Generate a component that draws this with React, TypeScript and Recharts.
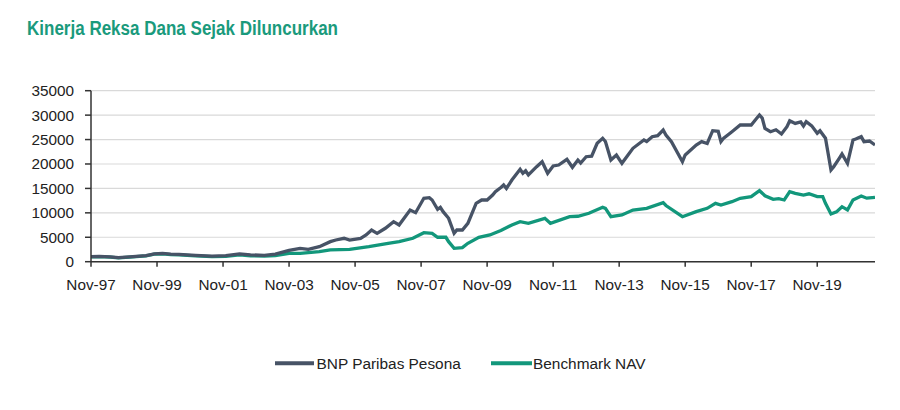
import React from "react";
import { LineChart, Line, XAxis, YAxis, CartesianGrid } from "recharts";

// months since Nov-97 (launch) and NAV values
const bnpMonth = [0, 3, 7, 10, 14, 20, 23, 26, 29, 32, 38, 44, 49, 54, 58, 63, 67, 72, 76, 79, 83, 87, 89, 92, 94, 98, 100, 102, 104, 107, 110, 112, 116, 118, 121, 123, 124, 126, 127, 128, 130, 132, 133, 135, 137, 140, 142, 144, 146, 147, 149, 150, 151, 153, 156, 157, 158, 159, 162, 164, 166, 168, 170, 173, 175, 177, 178, 180, 182, 184, 186, 187, 189, 191, 193, 197, 201, 202, 204, 206, 208, 209, 211, 215, 216, 220, 222, 224, 226, 228, 229, 230, 233, 236, 240, 242, 243, 244, 245, 247, 249, 251, 253, 254, 256, 258, 259, 260, 262, 264, 265, 267, 269, 270, 272, 273, 275, 277, 278, 280, 281, 283, 285];
const bnpValue = [1050, 1100, 1000, 850, 1000, 1250, 1600, 1700, 1550, 1500, 1300, 1150, 1250, 1600, 1400, 1300, 1550, 2300, 2740, 2540, 3070, 4100, 4440, 4790, 4440, 4790, 5470, 6490, 5810, 6840, 8190, 7510, 10580, 10030, 12980, 13100, 12630, 10730, 11140, 10240, 8880, 5810, 6490, 6490, 7860, 11950, 12630, 12630, 13650, 14330, 15200, 15700, 15000, 16720, 18910, 18090, 18600, 17750, 19450, 20470, 18090, 19590, 19790, 20960, 19320, 20820, 20200, 21490, 21600, 24240, 25260, 24600, 20820, 21840, 20140, 23210, 24910, 24600, 25590, 25800, 26960, 25940, 24570, 20470, 21840, 23890, 24570, 24200, 26820, 26700, 24570, 25300, 26610, 27980, 27980, 29350, 30030, 29400, 27300, 26610, 27000, 26140, 27640, 28860, 28300, 28600, 27780, 28660, 27800, 26280, 26800, 25260, 18770, 19450, 21160, 22040, 20140, 24910, 25100, 25590, 24570, 24700, 23890];

const benchMonth = [0, 3, 7, 10, 14, 20, 23, 26, 29, 32, 38, 44, 49, 54, 58, 63, 67, 72, 76, 83, 87, 94, 101, 108, 112, 117, 121, 124, 126, 129, 130, 132, 135, 137, 141, 145, 149, 153, 156, 159, 165, 167, 174, 177, 181, 186, 187, 189, 193, 197, 202, 208, 209, 215, 220, 224, 227, 229, 233, 236, 240, 243, 245, 248, 250, 252, 254, 256, 259, 261, 264, 266, 267, 269, 271, 273, 275, 277, 280, 282, 285];
const benchValue = [1000, 1050, 950, 800, 950, 1200, 1550, 1600, 1450, 1400, 1200, 1050, 1100, 1400, 1200, 1150, 1250, 1700, 1720, 2050, 2400, 2540, 3070, 3770, 4100, 4790, 5940, 5800, 5000, 5000, 4100, 2740, 2880, 3770, 5000, 5470, 6400, 7510, 8190, 7850, 8880, 7860, 9210, 9300, 9910, 11140, 10900, 9210, 9560, 10580, 10930, 12080, 11500, 9210, 10240, 10930, 11950, 11600, 12280, 12980, 13310, 14530, 13500, 12770, 12900, 12630, 14330, 14000, 13650, 13900, 13310, 13310, 11950, 9760, 10200, 11260, 10580, 12630, 13450, 13000, 13180];

const xTicks = [0, 24, 48, 72, 96, 120, 144, 168, 192, 216, 240, 264];
const xTickLabels = ["Nov-97", "Nov-99", "Nov-01", "Nov-03", "Nov-05", "Nov-07", "Nov-09", "Nov-11", "Nov-13", "Nov-15", "Nov-17", "Nov-19"];
const yTicks = [0, 5000, 10000, 15000, 20000, 25000, 30000, 35000];

const seriesNames = ["BNP Paribas Pesona", "Benchmark NAV"];
const title = "Kinerja Reksa Dana Sejak Diluncurkan";

const bnpData = bnpMonth.map((m, i) => ({ m, v: bnpValue[i] }));
const benchData = benchMonth.map((m, i) => ({ m, v: benchValue[i] }));

const BNP_COLOR = "#475366";
const BENCH_COLOR = "#12977b";
const FONT = "'Liberation Sans', Arial, sans-serif";

export default function App() {
  return (
    <div style={{ position: "relative", width: 884, height: 394, background: "#fff" }}>
      <svg width={884} height={40} style={{ position: "absolute", left: 0, top: 0 }}>
        <text
          x={19}
          y={26.5}
          fontFamily={FONT}
          fontWeight="bold"
          fontSize={19.5}
          fill="#1a9a7c"
          textLength={311}
          lengthAdjust="spacingAndGlyphs"
        >
          {title}
        </text>
      </svg>
      <div style={{ position: "absolute", left: 0, top: 0 }}>
        <LineChart
          width={884}
          height={394}
          margin={{ top: 82.7, right: 17, left: 0, bottom: 110.3 }}
        >
          <CartesianGrid horizontal vertical={false} stroke="#d9d9d9" strokeWidth={1.2} />
          <XAxis
            type="number"
            dataKey="m"
            domain={[0, 285]}
            ticks={xTicks}
            tickFormatter={(v: number) => xTickLabels[xTicks.indexOf(v)] ?? ""}
            height={30}
            tickSize={5}
            tickMargin={12}
            axisLine={{ stroke: "#333", strokeWidth: 1.5 }}
            tickLine={{ stroke: "#333", strokeWidth: 1.5 }}
            tick={{ fill: "#222", fontSize: 15.3, fontFamily: FONT }}
            allowDataOverflow
          />
          <YAxis
            type="number"
            domain={[0, 35000]}
            ticks={yTicks}
            width={83}
            tickSize={6}
            tickMargin={11}
            axisLine={{ stroke: "#333", strokeWidth: 1.5 }}
            tickLine={{ stroke: "#333", strokeWidth: 1.5 }}
            tick={{ fill: "#222", fontSize: 15.3, fontFamily: FONT }}
          />
          <Line
            data={benchData}
            dataKey="v"
            name={seriesNames[1]}
            stroke={BENCH_COLOR}
            strokeWidth={3.3}
            dot={false}
            type="linear"
            isAnimationActive={false}
          />
          <Line
            data={bnpData}
            dataKey="v"
            name={seriesNames[0]}
            stroke={BNP_COLOR}
            strokeWidth={3.3}
            dot={false}
            type="linear"
            isAnimationActive={false}
          />
        </LineChart>
      </div>
      <svg width={884} height={40} style={{ position: "absolute", left: 0, top: 337 }}>
        <line x1={267} y1={18.3} x2={306} y2={18.3} stroke={BNP_COLOR} strokeWidth={4} />
        <text x={308.5} y={23.8} fontFamily={FONT} fontSize={15.4} fill="#222">
          {seriesNames[0]}
        </text>
        <line x1={483} y1={18.3} x2={524} y2={18.3} stroke={BENCH_COLOR} strokeWidth={4} />
        <text x={525} y={23.8} fontFamily={FONT} fontSize={15.4} fill="#222">
          {seriesNames[1]}
        </text>
      </svg>
    </div>
  );
}
